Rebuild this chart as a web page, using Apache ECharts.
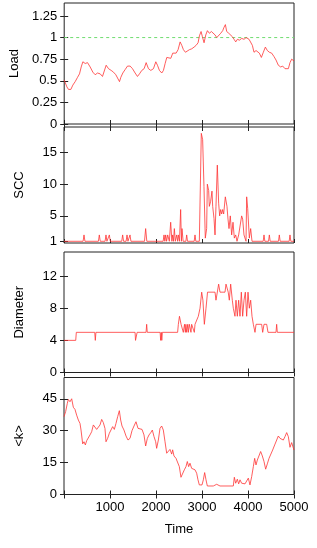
<!DOCTYPE html>
<html>
<head>
<meta charset="utf-8">
<script src="https://cdn.jsdelivr.net/npm/echarts@6/dist/echarts.min.js"></script>
<style>
html,body{margin:0;padding:0;background:#fff;}
#chart{width:317px;height:548px;}
</style>
</head>
<body>
<div id="chart"></div>
<script>
// ---- data ----
const xTicks = [0, 1000, 2000, 3000, 4000, 5000];
const xTickLabels = [1000, 2000, 3000, 4000, 5000];

const loadTicks = [0, 0.25, 0.5, 0.75, 1, 1.25];
const loadRef = 1;
const loadTime = [0,58,94,145,188,239,290,333,370,406,457,507,565,623,674,725,783,833,870,913,964,1022,1072,1123,1159,1203,1232,1275,1326,1377,1435,1486,1543,1594,1638,1688,1739,1783,1833,1884,1942,1993,2029,2072,2123,2159,2196,2232,2275,2319,2362,2399,2435,2478,2522,2558,2594,2638,2681,2725,2775,2826,2870,2913,2942,2978,3007,3043,3080,3116,3159,3203,3246,3283,3319,3362,3406,3449,3478,3507,3536,3580,3623,3659,3696,3732,3768,3812,3862,3913,3957,3986,4022,4058,4094,4130,4174,4210,4246,4290,4333,4377,4420,4464,4514,4565,4609,4659,4710,4754,4804,4841,4877,4913,4949,5000];
const loadValues = [0.51,0.43,0.40,0.40,0.45,0.49,0.54,0.58,0.66,0.72,0.70,0.71,0.66,0.60,0.57,0.59,0.58,0.55,0.57,0.68,0.64,0.62,0.60,0.57,0.55,0.49,0.54,0.59,0.63,0.67,0.67,0.64,0.59,0.55,0.58,0.62,0.64,0.71,0.64,0.62,0.64,0.72,0.68,0.62,0.59,0.62,0.70,0.77,0.78,0.76,0.82,0.82,0.82,0.86,0.95,0.91,0.86,0.83,0.85,0.86,0.87,0.89,0.91,0.94,1.02,1.07,1.01,0.94,1.03,1.08,1.05,1.07,1.09,1.03,1.00,1.02,1.05,1.08,1.12,1.15,1.07,1.05,1.05,1.01,0.98,0.95,0.98,0.97,0.99,0.98,1.00,1.02,0.98,0.97,0.91,0.83,0.85,0.86,0.82,0.77,0.83,0.89,0.85,0.83,0.82,0.78,0.74,0.68,0.66,0.67,0.64,0.66,0.64,0.71,0.75,0.73];

const sccTicks = [1, 5, 10, 15];
const sccTime = [0,415,435,455,748,768,788,893,913,933,966,986,1006,1255,1275,1295,1350,1370,1390,1415,1435,1455,1750,1775,1800,2155,2174,2192,2210,2230,2254,2290,2319,2345,2362,2380,2399,2420,2450,2470,2486,2510,2536,2552,2565,2590,2650,2667,2685,2830,2848,2866,2942,2985,3014,3043,3072,3101,3116,3145,3159,3188,3217,3232,3261,3283,3304,3333,3362,3384,3406,3427,3449,3471,3507,3543,3565,3587,3615,3645,3674,3703,3732,3761,3797,3826,3862,3884,3913,3957,3971,3993,4029,4058,4087,4330,4348,4366,4446,4464,4482,4663,4681,4699,4895,4913,4931,5000];
const sccValues = [1,1,2,1,1,2,1,1,2,1,1,2,1,1,2,1,1,2,1,1,2,1,1,3,1,1,2,1,2,1,2,1,4,1,2,1,3,1,2,1,2,1,6,1,3,1,1,2,1,1,2,1,1,18,17,9.6,1.5,3,10,9,6.5,7.3,8.9,6.5,4.6,2,6.5,13,7,5,6,5.3,6,5.3,8,6.5,4.5,3,5,2,4,1.5,2,1,2,2,5,4.5,2,1,8,6.2,1.5,3,1,1,2,1,1,2,1,1,2,1,1,2,1,1];

const diamTicks = [0, 4, 8, 12];
const diamTime = [0,255,268,668,681,694,1545,1555,1580,1590,1784,1797,1810,2090,2101,2115,2126,2138,2470,2486,2510,2530,2545,2580,2594,2620,2638,2650,2667,2690,2703,2725,2739,2760,2775,2812,2833,2848,2884,2920,2957,2993,3020,3051,3087,3120,3283,3304,3345,3362,3391,3500,3522,3545,3570,3594,3623,3659,3681,3717,3739,3768,3797,3826,3855,3884,3913,3942,3971,4000,4029,4058,4087,4116,4152,4175,4297,4319,4348,4406,4435,4609,4623,4637,5000];
const diamValues = [4,4,5,5,4,5,5,4,4,5,5,6,5,5,4,5,4,5,5,6,7,7,6,6,5,6,5,6,5,6,5,6,6,5,6,6,5,6,6,7,8,10,9,6,8,10,10,9,9,11,10,10,11,11,10,9,11,9,8,7,9,7,9,7,10,7,9,10,7,10,8,9,7,6,5,6,6,5,6,6,5,5,6,5,5];

const kTicks = [0, 15, 30, 45];
const kTime = [0,36,72,94,130,167,203,239,275,312,348,370,406,435,464,493,529,565,601,638,674,710,746,783,819,855,891,913,949,986,1022,1058,1094,1130,1167,1203,1232,1261,1304,1348,1391,1435,1478,1522,1565,1609,1652,1696,1739,1775,1812,1848,1884,1920,1957,1993,2014,2051,2087,2123,2159,2196,2232,2275,2304,2341,2362,2391,2435,2478,2507,2543,2580,2616,2652,2681,2710,2739,2775,2812,2848,2884,2913,2942,2971,3000,3029,3058,3087,3116,3246,3319,3391,3681,3703,3732,3768,3797,3826,3862,3899,3935,3971,4007,4043,4080,4116,4145,4174,4203,4239,4275,4312,4348,4384,4420,4457,4493,4536,4580,4623,4659,4696,4732,4768,4804,4841,4877,4913,4949,5000];
const kValues = [36.6,39,42.8,44.7,43.6,45,41,40,37.3,35,33.4,30.3,23.8,24.8,23.3,25.3,24.8,28,29.5,32.7,31.9,30.6,31,32.7,35.3,33.8,31,24.8,26.4,28.8,28.4,31.9,30.6,33.4,36.6,39.4,35,32.2,30.3,27.5,25.6,26.4,30,32.2,34.2,31.1,30.3,30.6,28,22.8,26.4,28,29,30.3,27.2,24.8,21.7,25.6,31.1,32.2,30.3,24.8,19.4,19,21.2,19,21,18.1,17,17.5,13.1,8.1,8.4,11.6,13.1,15.5,13.1,14.7,12.3,13.1,11.6,10,6.9,4.5,4,4.5,6.9,10.3,6.9,4,4,4.8,4,4,8.1,5.3,7.2,5,6.9,5.3,6.1,5,4.5,7.7,4.5,8.4,13.1,17,13.9,16.2,15.5,20.2,18.1,15.5,11.9,14.4,17,17.8,20.9,23.3,24.1,27.5,26.4,27.2,25.6,27.2,29.1,27.2,22.2,24.4,20.9];

// ---- layout / style ----
const FONT = 'Liberation Sans, Arial, Helvetica, sans-serif';
const LINE = '#ff3333';
const FRAME = '#222';
const panels = [
  {name:'Load', top:3, height:121, min:0, max:1.4, ticks:loadTicks, t:loadTime, v:loadValues},
  {name:'SCC', top:127, height:116, min:0.73, max:19, ticks:sccTicks, t:sccTime, v:sccValues},
  {name:'Diameter', top:252, height:120.5, min:0, max:15, ticks:diamTicks, t:diamTime, v:diamValues},
  {name:'<k>', top:377.5, height:117, min:0, max:55, ticks:kTicks, t:kTime, v:kValues}
];

function pairs(t, v){ const n=Math.min(t.length,v.length); const out=[]; for(let i=0;i<n;i++) out.push([t[i],v[i]]); return out; }
const plain = v => String(v);

const grid=[], xAxis=[], yAxis=[], series=[];
panels.forEach((p,i)=>{
  grid.push({left:64, width:230, top:p.top, height:p.height, show:true, borderColor:FRAME, borderWidth:1, backgroundColor:'transparent', containLabel:false});
  const last = i===panels.length-1;
  const tickStyle = {show:true, inside:true, length:4, customValues:xTicks, lineStyle:{color:FRAME, width:1}};
  xAxis.push({type:'value', gridIndex:i, position:'bottom', min:0, max:5000,
    axisLine:{show:false}, splitLine:{show:false}, axisTick:tickStyle,
    axisLabel:{show:last, customValues:xTickLabels, formatter:plain, fontFamily:FONT, fontSize:13, color:'#000', margin:6},
    name: last ? 'Time' : '', nameLocation:'middle', nameGap:28,
    nameTextStyle:{fontFamily:FONT, fontSize:13, color:'#000'}});
  xAxis.push({type:'value', gridIndex:i, position:'top', min:0, max:5000,
    axisLine:{show:false}, splitLine:{show:false}, axisTick:tickStyle, axisLabel:{show:false}});
  const yTick = {show:true, inside:true, length:4, customValues:p.ticks, lineStyle:{color:FRAME, width:1}};
  yAxis.push({type:'value', gridIndex:i, position:'left', min:p.min, max:p.max,
    axisLine:{show:false}, splitLine:{show:false}, axisTick:yTick,
    axisLabel:{show:true, customValues:p.ticks, formatter:plain, fontFamily:FONT, fontSize:13, color:'#000', margin:7},
    name:p.name, nameLocation:'middle', nameGap:38, nameRotate:90,
    nameTextStyle:{fontFamily:FONT, fontSize:13, color:'#000'}});
  yAxis.push({type:'value', gridIndex:i, position:'right', min:p.min, max:p.max,
    axisLine:{show:false}, splitLine:{show:false}, axisTick:yTick, axisLabel:{show:false}});
  if(i===0){
    series.push({type:'line', xAxisIndex:0, yAxisIndex:0, data:[[0,loadRef],[5000,loadRef]],
      showSymbol:false, symbol:'none', silent:true, z:2, itemStyle:{color:'#6fdc6f'},
      lineStyle:{color:'#6fdc6f', type:[3,3], width:1}});
  }
  series.push({type:'line', xAxisIndex:2*i, yAxisIndex:2*i, data:pairs(p.t,p.v), showSymbol:false, symbol:'none',
    lineStyle:{color:LINE, width:0.8}, silent:true, z:3});
});

const chart = echarts.init(document.getElementById('chart'), null, {renderer:'canvas'});
chart.setOption({animation:false, backgroundColor:'#fff', grid, xAxis, yAxis, series});
</script>
</body>
</html>
